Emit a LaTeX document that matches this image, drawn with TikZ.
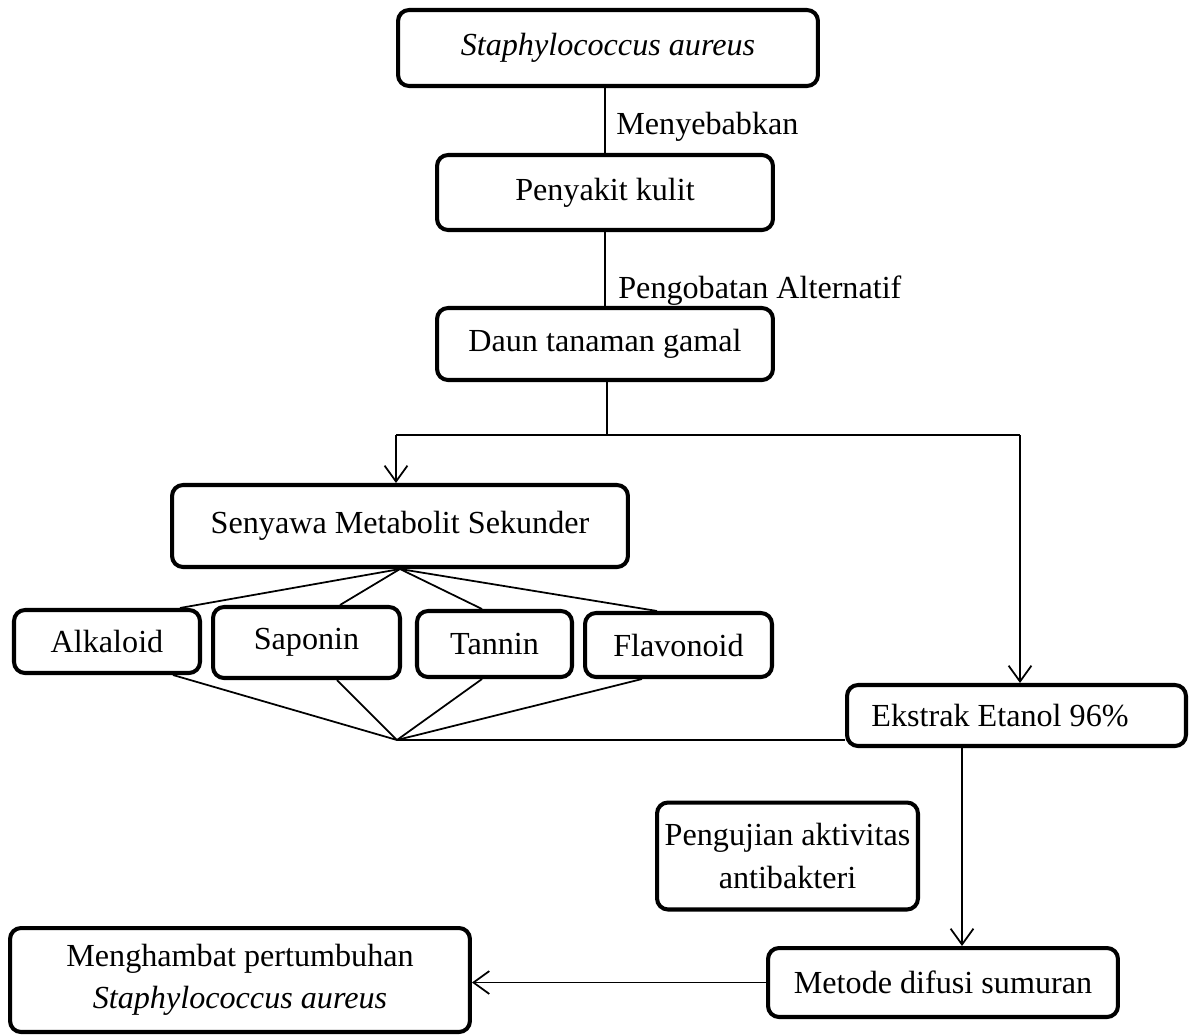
\documentclass[tikz,border=0pt]{standalone}
\usepackage{fontspec}
\setmainfont{Liberation Serif}
\usetikzlibrary{arrows.meta,calc}
\begin{document}
\begin{tikzpicture}[x=0.02cm,y=-0.02cm,
  txt/.style={font=\fontsize{18.3}{24}\selectfont},
  box/.style={draw, line width=2.3pt, rounded corners=0.22cm, inner sep=0pt, txt, align=center},
  conn/.style={line width=1pt},
  arr/.style={conn, -{Straight Barb[length=9pt,width=13pt]}},
  lbl/.style={txt, inner sep=0pt, anchor=base west}]
\useasboundingbox (0,0) rectangle (1190,1035);

\node[box, minimum width=8.4cm, minimum height=1.52cm] (n1) at (608,48) {\itshape Staphylococcus aureus};
\node[box, minimum width=6.72cm, minimum height=1.5cm] (n2) at (605,192.5) {Penyakit kulit};
\node[box, minimum width=6.72cm, minimum height=1.44cm] (n3) at (605,344) {Daun tanaman gamal};
\node[box, minimum width=9.12cm, minimum height=1.64cm] (sen) at (400,526) {Senyawa Metabolit Sekunder};
\node[box, minimum width=3.72cm, minimum height=1.26cm] (alk) at (107,641.5) {Alkaloid};
\node[box, minimum width=3.74cm, minimum height=1.42cm] (sap) at (306.5,642.5) {Saponin};
\node[box, minimum width=3.1cm, minimum height=1.32cm] (tan) at (494.5,644) {Tannin};
\node[box, minimum width=3.74cm, minimum height=1.28cm] (fla) at (678.5,645) {Flavonoid};
\node[box, minimum width=6.78cm, minimum height=1.22cm,
      label={[txt, xshift=-0.33cm]center:Ekstrak Etanol 96\%}] (eks) at (1016.5,715.5) {};
\node[box, minimum width=5.22cm, minimum height=2.14cm] (uji) at (787.5,856) {Pengujian aktivitas\\antibakteri};
\node[box, minimum width=7.0cm, minimum height=1.38cm] (met) at (943,982.5) {Metode difusi sumuran};
\node[box, minimum width=9.2cm, minimum height=2.08cm] (ham) at (240,980) {Menghambat pertumbuhan\\\textit{Staphylococcus aureus}};

% top chain
\draw[conn] (n2.north |- n1.south) -- (n2.north);
\node[lbl] (l1) at (616,134) {Menyebabkan};
\draw[conn] (n2.south) -- (n3.north);
\node[lbl] (l2) at (618,298) {Pengobatan Alternatif};

% split
\coordinate (jL) at (396,435);
\coordinate (jR) at (1020,435);
\draw[conn] ([xshift=0.04cm]n3.south) coordinate (s3) -- (s3 |- jL);
\draw[conn] (jL) -- (jR);
\draw[arr] (jL) -- (jL |- sen.north);
\draw[arr] (jR) -- (jR |- eks.north);

% fan out
\draw[conn] (sen.south) -- ([xshift=1.46cm]alk.north);
\draw[conn] (sen.south) -- ([xshift=0.67cm]sap.north);
\draw[conn] (sen.south) -- ([xshift=-0.25cm]tan.north);
\draw[conn] (sen.south) -- ([xshift=-0.43cm]fla.north);

% fan in
\coordinate (conv) at (397,740);
\draw[conn] ([xshift=1.32cm]alk.south) -- (conv);
\draw[conn] ([xshift=0.61cm]sap.south) -- (conv);
\draw[conn] ([xshift=-0.25cm]tan.south) -- (conv);
\draw[conn] ([xshift=-0.73cm]fla.south) -- (conv);
\draw[conn] (conv) -- (conv -| eks.west);

% lower chain
\draw[arr] ([xshift=-1.09cm]eks.south) coordinate (e1) -- (e1 |- met.north);
\draw[arr] (met.west) -- (met.west -| ham.east);
\end{tikzpicture}
\end{document}
